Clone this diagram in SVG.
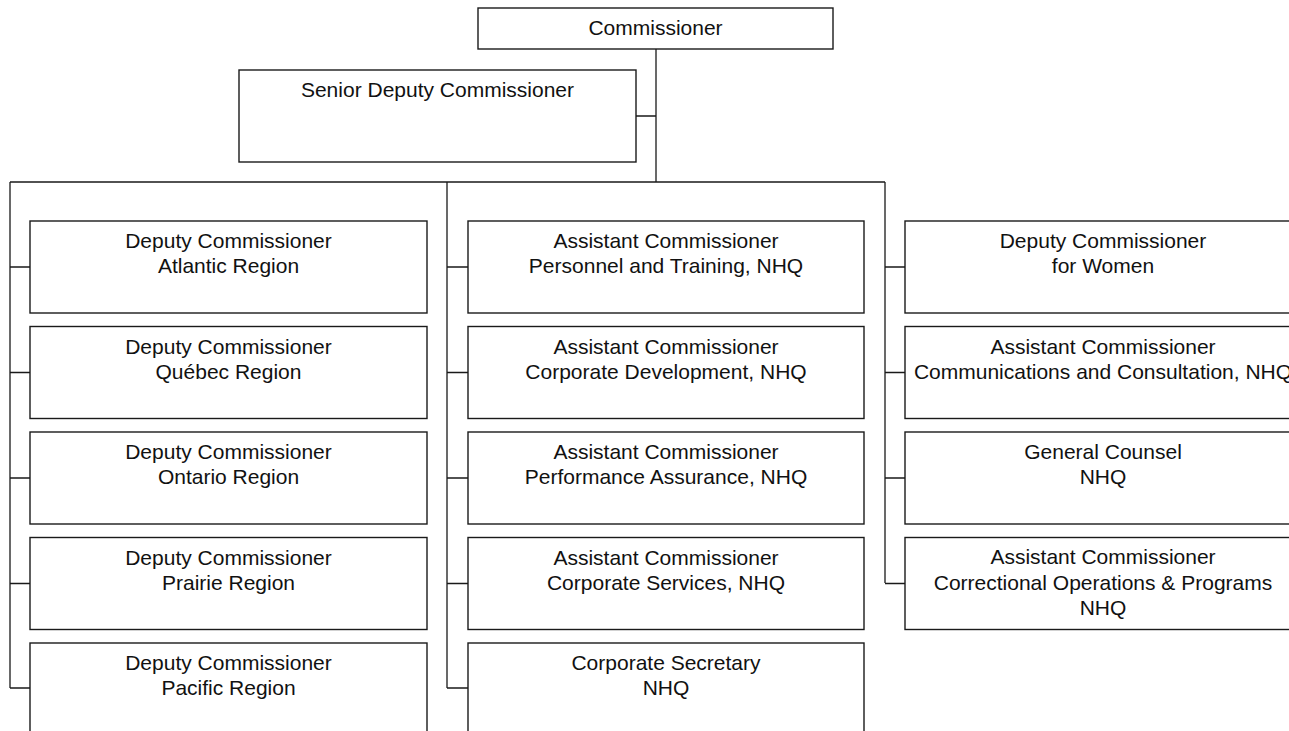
<svg xmlns="http://www.w3.org/2000/svg" width="1289" height="731" viewBox="0 0 1289 731">
<style>
.box{fill:#fff;stroke:#1a1a1a;stroke-width:1.4}
.ln{fill:none;stroke:#1a1a1a;stroke-width:1.3}
text{font-family:"Liberation Sans",Arial,sans-serif;font-size:21px;fill:#111;text-anchor:middle}
</style>
<rect width="1289" height="731" fill="#fff"/>
<g id="connectors">
<path class="ln" d="M656,49 V182 M636,116 H656 M10,182 H885 M10,182 V688 M447,182 V688 M885,182 V583"/>
<path class="ln" d="M10,267 H30 M10,372.5 H30 M10,478 H30 M10,583.5 H30 M10,688 H30"/>
<path class="ln" d="M447,267 H468 M447,372.5 H468 M447,478 H468 M447,583.5 H468 M447,688 H468"/>
<path class="ln" d="M885,267 H905 M885,372.5 H905 M885,478 H905 M885,583.5 H905"/>
</g>
<g id="commissioner"><rect class="box" x="478" y="8" width="355" height="41"/><text x="655.5" y="35">Commissioner</text></g>
<g id="senior-deputy"><rect class="box" x="239" y="70" width="397" height="92"/><text x="437.5" y="97">Senior Deputy Commissioner</text></g>
<g id="dc-atlantic"><rect class="box" x="30" y="221" width="397" height="92"/><text x="228.5" y="248">Deputy Commissioner</text><text x="228.5" y="273">Atlantic Region</text></g>
<g id="dc-quebec"><rect class="box" x="30" y="326.5" width="397" height="92"/><text x="228.5" y="353.5">Deputy Commissioner</text><text x="228.5" y="378.5">Québec Region</text></g>
<g id="dc-ontario"><rect class="box" x="30" y="432" width="397" height="92"/><text x="228.5" y="459">Deputy Commissioner</text><text x="228.5" y="484">Ontario Region</text></g>
<g id="dc-prairie"><rect class="box" x="30" y="537.5" width="397" height="92"/><text x="228.5" y="564.5">Deputy Commissioner</text><text x="228.5" y="589.5">Prairie Region</text></g>
<g id="dc-pacific"><rect class="box" x="30" y="643" width="397" height="92"/><text x="228.5" y="670">Deputy Commissioner</text><text x="228.5" y="695">Pacific Region</text></g>
<g id="ac-personnel"><rect class="box" x="468" y="221" width="396" height="92"/><text x="666" y="248">Assistant Commissioner</text><text x="666" y="273">Personnel and Training, NHQ</text></g>
<g id="ac-corpdev"><rect class="box" x="468" y="326.5" width="396" height="92"/><text x="666" y="353.5">Assistant Commissioner</text><text x="666" y="378.5">Corporate Development, NHQ</text></g>
<g id="ac-performance"><rect class="box" x="468" y="432" width="396" height="92"/><text x="666" y="459">Assistant Commissioner</text><text x="666" y="484">Performance Assurance, NHQ</text></g>
<g id="ac-corpserv"><rect class="box" x="468" y="537.5" width="396" height="92"/><text x="666" y="564.5">Assistant Commissioner</text><text x="666" y="589.5">Corporate Services, NHQ</text></g>
<g id="corp-secretary"><rect class="box" x="468" y="643" width="396" height="92"/><text x="666" y="670">Corporate Secretary</text><text x="666" y="695">NHQ</text></g>
<g id="dc-women"><rect class="box" x="905" y="221" width="396" height="92"/><text x="1103" y="248">Deputy Commissioner</text><text x="1103" y="273">for Women</text></g>
<g id="ac-communications"><rect class="box" x="905" y="326.5" width="396" height="92"/><text x="1103" y="353.5">Assistant Commissioner</text><text x="1103" y="378.5">Communications and Consultation, NHQ</text></g>
<g id="general-counsel"><rect class="box" x="905" y="432" width="396" height="92"/><text x="1103" y="459">General Counsel</text><text x="1103" y="484">NHQ</text></g>
<g id="ac-correctional"><rect class="box" x="905" y="537.5" width="396" height="92"/><text x="1103" y="564">Assistant Commissioner</text><text x="1103" y="590">Correctional Operations &amp; Programs</text><text x="1103" y="615">NHQ</text></g>
</svg>
